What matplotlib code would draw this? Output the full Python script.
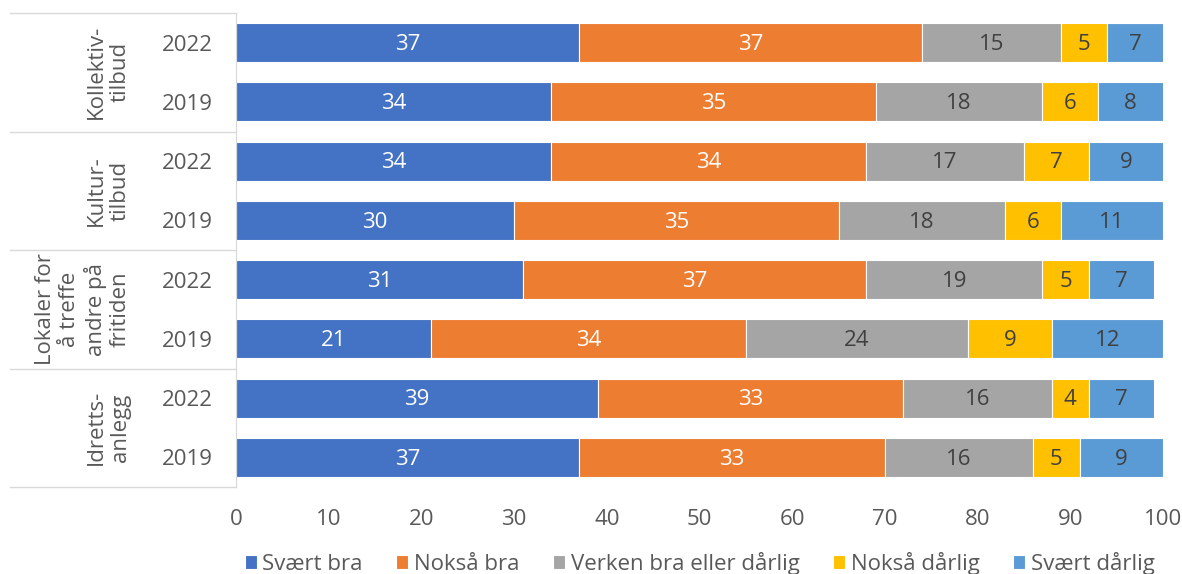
import matplotlib.pyplot as plt
import matplotlib.transforms as mtransforms

plt.rcParams['font.family'] = ['Open Sans', 'DejaVu Sans']

# data, top to bottom
groups = ['Kollektiv-\ntilbud', 'Kultur-\ntilbud', 'Lokaler for\nå treffe\nandre på\nfritiden', 'Idretts-\nanlegg']
years = ['2022', '2019', '2022', '2019', '2022', '2019', '2022', '2019']
series = ['Svært bra', 'Nokså bra', 'Verken bra eller dårlig', 'Nokså dårlig', 'Svært dårlig']
svaert_bra = [37, 34, 34, 30, 31, 21, 39, 37]
noksa_bra = [37, 35, 34, 35, 37, 34, 33, 33]
verken = [15, 18, 17, 18, 19, 24, 16, 16]
noksa_darlig = [5, 6, 7, 6, 5, 9, 4, 5]
svaert_darlig = [7, 8, 9, 11, 7, 12, 7, 9]

values = [svaert_bra, noksa_bra, verken, noksa_darlig, svaert_darlig]
colors = ['#4472C4', '#ED7D31', '#A5A5A5', '#FFC000', '#5B9BD5']
label_colors = ['white', 'white', '#404040', '#404040', '#404040']

fig = plt.figure(figsize=(11.82, 5.74), dpi=100)
ax = fig.add_axes([236 / 1182, 1 - 487 / 574, 927 / 1182, 474 / 574])

y = list(range(len(years)))
left = [0] * len(years)
for vals, name, c, lc in zip(values, series, colors, label_colors):
    ax.barh(y, vals, left=left, height=0.66, color=c, edgecolor='white',
            linewidth=0.8, label=name)
    for yi, l, v in zip(y, left, vals):
        x0 = l
        x1 = min(l + v, 100)  # excel puts the label in the visible part
        ax.text((x0 + x1) / 2, yi + 0.03, str(v), ha='center', va='center',
                color=lc, fontsize=16)
    left = [l + v for l, v in zip(left, vals)]

ax.set_xlim(0, 100)
ax.set_ylim(7.5, -0.5)
ax.set_xticks(range(0, 101, 10))
ax.set_yticks(y)
ax.set_yticklabels(years)
ax.tick_params(axis='both', length=0, labelsize=16, labelcolor='#595959')
ax.tick_params(axis='y', pad=17)
ax.tick_params(axis='x', pad=16)
for s in ['top', 'right', 'bottom']:
    ax.spines[s].set_visible(False)
ax.spines['left'].set_color('#D9D9D9')

# group labels and separators in the label area
trans = mtransforms.blended_transform_factory(ax.transAxes, ax.transData)
x_line = (10 - 236) / 927
for b in [-0.5, 1.5, 3.5, 5.5, 7.5]:
    ax.plot([x_line, 0], [b, b], color='#D9D9D9', lw=1, transform=trans, clip_on=False)
x_grp = (131 - 236) / 927
for i, g in enumerate(groups):
    ax.text(x_grp, 2 * i + 0.5, g, rotation=90, ha='right', va='center',
            multialignment='center', fontsize=16, color='#595959',
            transform=trans, linespacing=1.2)

leg = ax.legend(loc='upper center', bbox_to_anchor=(0.5, -0.095), ncol=5,
                frameon=False, fontsize=16, handlelength=0.55, handleheight=0.55,
                handletextpad=0.25, columnspacing=1.5)
for t in leg.get_texts():
    t.set_color('#595959')

fig.savefig('out.png', dpi=100)
